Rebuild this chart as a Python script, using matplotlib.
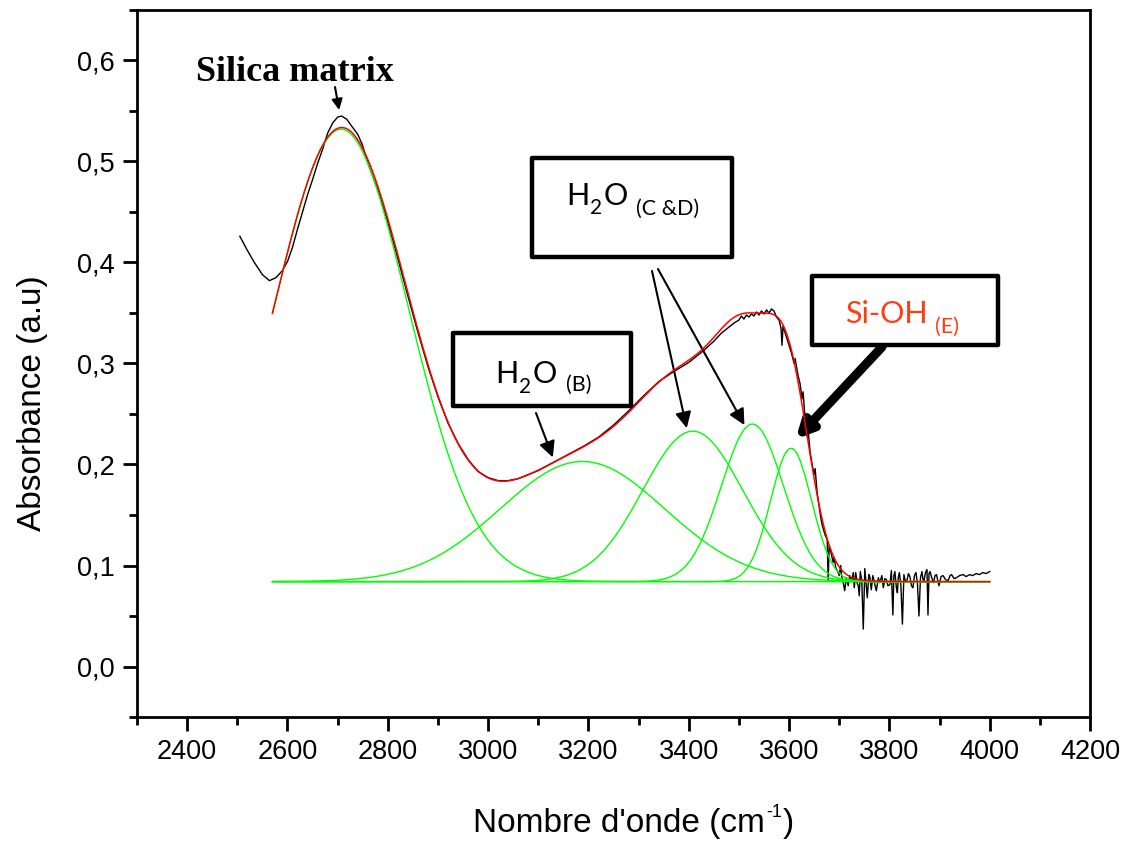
import numpy as np
import matplotlib.pyplot as plt
from matplotlib.patches import Rectangle
from matplotlib.ticker import MultipleLocator, FuncFormatter

spec_x = [2505, 2520, 2534, 2550, 2564, 2577, 2590, 2600, 2610, 2620,
          2630, 2640, 2650, 2660, 2670, 2680, 2690, 2700, 2708, 2718,
          2728, 2740, 2749, 2760, 2780, 2800, 2820, 2840, 2860, 2880,
          2900, 2920, 2940, 2960, 2980, 3000, 3020, 3040, 3060, 3080,
          3100, 3130, 3160, 3190, 3220, 3250, 3280, 3310,
          3340, 3370, 3400, 3430, 3450, 3465, 3480, 3490, 3500, 3505,
          3510, 3515, 3520, 3525, 3530, 3535, 3540, 3545, 3550, 3555,
          3560, 3565, 3570, 3575, 3580, 3584, 3586, 3588, 3595, 3600,
          3605, 3610, 3612, 3618, 3622, 3626, 3628, 3632, 3636, 3638,
          3642, 3646, 3650, 3652, 3656, 3660, 3663, 3666, 3672, 3676,
          3678, 3680, 3684, 3688, 3690, 3693, 3697, 3700, 3703, 3705,
          3708, 3711, 3714, 3718, 3721, 3725, 3728, 3730, 3733, 3736,
          3738, 3740, 3742, 3745, 3748, 3751, 3754, 3756, 3759, 3761,
          3764, 3767, 3769, 3772, 3774, 3778, 3781, 3785, 3788, 3791,
          3794, 3797, 3801, 3804, 3807, 3809, 3811, 3814, 3816, 3818,
          3820, 3823, 3826, 3829, 3832, 3835, 3838, 3841, 3844, 3847,
          3850, 3853, 3856, 3859, 3862, 3865, 3867, 3869, 3872, 3875,
          3877, 3879, 3881, 3885, 3888, 3891, 3894, 3897, 3899, 3903,
          3907, 3912, 3917, 3921, 3924, 3929, 3934, 3940, 3947, 3953,
          3960, 3966, 3973, 3980, 3986, 3993, 4000]
spec_y = [0.426, 0.412, 0.400, 0.388, 0.382, 0.385, 0.392, 0.401, 0.415, 0.433,
          0.450, 0.467, 0.482, 0.498, 0.512, 0.528, 0.538, 0.544, 0.545, 0.542,
          0.535, 0.527, 0.517, 0.499, 0.472, 0.440, 0.404, 0.367, 0.331, 0.297,
          0.267, 0.241, 0.221, 0.205, 0.193, 0.187, 0.184, 0.184, 0.186, 0.190,
          0.194, 0.202, 0.210, 0.218, 0.227, 0.239, 0.253, 0.268,
          0.282, 0.292, 0.301, 0.313, 0.322, 0.330, 0.336, 0.340, 0.343, 0.347,
          0.344, 0.348, 0.346, 0.349, 0.347, 0.351, 0.348, 0.352, 0.349, 0.353,
          0.350, 0.354, 0.352, 0.346, 0.343, 0.335, 0.318, 0.337, 0.326, 0.318,
          0.310, 0.300, 0.305, 0.288, 0.280, 0.265, 0.272, 0.245, 0.228, 0.234,
          0.212, 0.200, 0.190, 0.196, 0.172, 0.158, 0.148, 0.140, 0.130, 0.126,
          0.085, 0.120, 0.112, 0.103, 0.108, 0.098, 0.094, 0.090, 0.100, 0.089,
          0.083, 0.075, 0.088, 0.080, 0.090, 0.084, 0.093, 0.078, 0.093, 0.082,
          0.080, 0.070, 0.094, 0.085, 0.037, 0.097, 0.080, 0.068, 0.091, 0.089,
          0.076, 0.090, 0.086, 0.079, 0.075, 0.088, 0.083, 0.090, 0.078, 0.087,
          0.086, 0.080, 0.081, 0.095, 0.051, 0.090, 0.094, 0.078, 0.073, 0.089,
          0.093, 0.080, 0.042, 0.091, 0.084, 0.085, 0.092, 0.089, 0.080, 0.078,
          0.090, 0.093, 0.082, 0.050, 0.088, 0.094, 0.086, 0.085, 0.093, 0.096,
          0.051, 0.092, 0.094, 0.087, 0.083, 0.090, 0.091, 0.084, 0.080, 0.089,
          0.090, 0.086, 0.085, 0.090, 0.091, 0.087, 0.088, 0.090, 0.091, 0.089,
          0.091, 0.090, 0.092, 0.091, 0.093, 0.092, 0.094]

# gaussian deconvolution (green components)
baseline = 0.084
peak_center = [2707, 3188, 3408, 3527, 3604]   # A, B, C, D, E
peak_height = [0.448, 0.119, 0.149, 0.156, 0.132]
peak_width = [134, 164, 100, 62, 41]
fit_start, fit_end = 2570, 4000

W, H = 1131, 846


def px(x, y):
    # pixel position (from top-left) -> figure fraction
    return x / W, 1 - y / H


fig = plt.figure(figsize=(W / 100, H / 100), dpi=100)
ax = fig.add_axes([137 / W, 1 - 717 / H, (1090 - 137) / W, (717 - 10) / H])
renderer = fig.canvas.get_renderer()

wn = np.arange(fit_start, fit_end + 1, 1.0)
comps = [h * np.exp(-(wn - c) ** 2 / (2 * s ** 2))
         for c, h, s in zip(peak_center, peak_height, peak_width)]

ax.plot(spec_x, spec_y, color='black', lw=1.0, zorder=2)
for comp in comps:
    ax.plot(wn, baseline + comp, color='#00ff00', lw=1.0, zorder=3)
ax.plot(wn, baseline + np.sum(comps, axis=0), color='red', lw=1.1, zorder=4)

ax.set_xlim(2300, 4200)
ax.set_ylim(-0.05, 0.65)
ax.set_xticks(np.arange(2400, 4201, 200))
ax.xaxis.set_minor_locator(MultipleLocator(100))
ax.set_yticks(np.arange(0, 0.61, 0.1))
ax.yaxis.set_minor_locator(MultipleLocator(0.05))
ax.yaxis.set_major_formatter(FuncFormatter(lambda v, p: f"{v:.1f}".replace('.', ',')))
for lab in ax.get_xticklabels() + ax.get_yticklabels():
    lab.set_family('Liberation Sans')
ax.tick_params(which='major', direction='out', length=10, width=2, labelsize=19.5, pad=6)
ax.tick_params(which='minor', direction='out', length=5.5, width=2)
for sp in ax.spines.values():
    sp.set_linewidth(2)

ax.set_ylabel("Absorbance (a.u)", fontsize=24, family='Liberation Sans')
ax.yaxis.set_label_coords((48 - 137) / 953, (717 - 403) / 707)


def chain(x, base, pieces, family, color='black'):
    # write text pieces one after the other; dy shifts sub/superscripts
    for s, size, dy, gap in pieces:
        t = fig.text(*px(x + gap, base + dy), s, ha='left', va='baseline', fontsize=size,
                     family=family, color=color, zorder=6)
        x = t.get_window_extent(renderer).x1


chain(473, 832, [("Nombre d'onde (cm", 24, 0, 0), ("-1", 13, -15, 1), (")", 24, 0, 1)],
      'Liberation Sans')

fig.text(*px(295, 81), "Silica matrix", ha='center', va='baseline', fontsize=26,
         family='Liberation Serif', weight='bold')

boxes = [(453, 333, 631, 406), (532, 158, 732, 257), (812, 276, 998, 345)]
for x0, y0, x1, y1 in boxes:
    fx0, fy1 = px(x0, y1)
    fx1, fy0 = px(x1, y0)
    fig.add_artist(Rectangle((fx0, fy1), fx1 - fx0, fy0 - fy1, transform=fig.transFigure,
                             facecolor='white', edgecolor='black', lw=3.2,
                             joinstyle='round', zorder=5))

chain(495, 383, [("H", 22, 0, 0), ("2", 15, 10, 1), ("O", 22, 0, 1), ("(B)", 15.5, 8, 9)], 'Lato')
chain(566, 205, [("H", 22, 0, 0), ("2", 15, 9, 1), ("O", 22, 0, 1), ("(C &D)", 15.5, 10, 8)], 'Lato')
chain(845, 323, [("Si-OH", 22, 0, 0), ("(E)", 15.5, 10, 7)], 'Lato', color='#ff3d14')

# arrows: start (pixel) -> tip (data)
arrows = [((335, 87), (2703, 0.551), 1.5, 16),
          ((536, 413), (3129, 0.207), 1.5, 24),
          ((652, 271), (3396, 0.236), 1.5, 24),
          ((658, 269), (3511, 0.239), 1.5, 24),
          ((882, 347), (3613, 0.225), 6.5, 24)]
for start, tip, lw, ms in arrows:
    ax.annotate('', xy=tip, xycoords='data', xytext=px(*start), textcoords='figure fraction',
                arrowprops=dict(arrowstyle='-|>', color='black', lw=lw, mutation_scale=ms,
                                shrinkA=0, shrinkB=0),
                annotation_clip=False)

fig.savefig('out.png', dpi=100)
